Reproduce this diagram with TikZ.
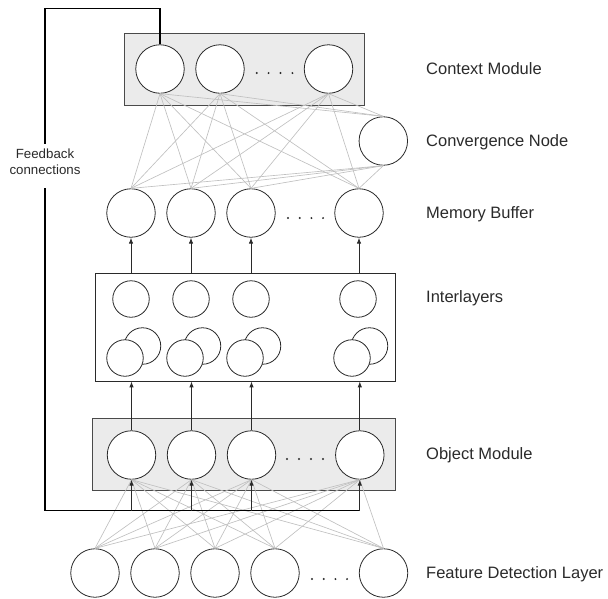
\documentclass[tikz,border=0pt]{standalone}
\usepackage{fontspec}
\setmainfont{Liberation Sans}
\usetikzlibrary{arrows.meta}
\definecolor{wire}{HTML}{C0C0C0}
\definecolor{panel}{HTML}{EBEBEB}
\definecolor{ink}{HTML}{2A2A2A}

\begin{document}
\begin{tikzpicture}[x=1pt,y=-1pt,
  neuron/.style={circle,draw=ink,line width=0.8pt,fill=white,minimum size=48.5pt,inner sep=0pt},
  unit/.style={circle,draw=ink,line width=0.8pt,fill=white,minimum size=36.5pt,inner sep=0pt},
  panelbox/.style={draw=ink!85,line width=0.8pt,fill=panel,inner sep=0pt},
  plainbox/.style={draw=ink,line width=0.8pt,fill=white,inner sep=0pt},
  wiring/.style={draw=wire,line width=0.65pt},
  feed/.style={draw=black,line width=1.3pt},
  upflow/.style={draw=ink,line width=0.9pt,-{Latex[length=6pt,width=4.5pt]}},
  layerlabel/.style={anchor=base west,inner sep=0pt,text=ink,
    font=\fontsize{16.5}{19}\selectfont},
  fblabel/.style={align=center,inner xsep=2pt,inner ysep=5pt,text=ink,
    font=\fontsize{13.3}{16}\selectfont},
  dotmark/.style={fill=ink}
]
\useasboundingbox (0,0) rectangle (608,598);

% module frames
\node[panelbox,minimum width=240pt,minimum height=72pt] (ctxbox) at (244,69) {};
\node[plainbox,minimum width=300pt,minimum height=108pt] (inter) at (245,327) {};
\node[panelbox,minimum width=303pt,minimum height=72pt] (objbox) at (244.3,454) {};

% context module
\node[neuron] (c1) at (160,69) {};
\node[neuron] (c2) at (220,69) {};
\node[neuron] (c3) at (328.5,69) {};
% convergence node
\node[neuron] (cv) at (383.3,141) {};
% memory buffer
\node[neuron] (m1) at (131,213) {};
\node[neuron] (m2) at (191,213) {};
\node[neuron] (m3) at (251,213) {};
\node[neuron] (m4) at (359,213) {};
% interlayers: single units and overlapping pairs
\foreach \i/\x in {1/131,2/191,3/251,4/358} {
  \node[unit] (s\i) at (\x,299) {};
  \node[unit] (q\i) at (\x+11.5,346) {};
  \node[unit] (p\i) at (\x-6,358) {};
}
% object module
\node[neuron] (o1) at (131.5,455) {};
\node[neuron] (o2) at (191.5,455) {};
\node[neuron] (o3) at (251.5,455) {};
\node[neuron] (o4) at (359.8,455) {};
% feature detection layer
\node[neuron] (d1) at (95,573) {};
\node[neuron] (d2) at (155,573) {};
\node[neuron] (d3) at (215,573) {};
\node[neuron] (d4) at (275,573) {};
\node[neuron] (d5) at (383.5,573) {};

% ellipses
\foreach \k in {0,1,2,3} {
  \fill[dotmark] (256.7+11.9*\k,73) circle (1.1);
  \fill[dotmark] (288+11.7*\k,218) circle (1.1);
  \fill[dotmark] (287+12*\k,459) circle (1.1);
  \fill[dotmark] (312+11.7*\k,579) circle (1.1);
}

% dense connections
\foreach \a in {1,2,3} {
  \foreach \b in {1,2,3,4} \draw[wiring] (c\a.south) -- (m\b.north);
  \draw[wiring] (c\a.south) -- (cv.north);
}
\foreach \b in {1,2,3,4} \draw[wiring] (cv.south) -- (m\b.north);
\foreach \a in {1,...,5} {
  \foreach \b in {1,2,3,4} \draw[wiring] (d\a.north) -- (o\b.south);
}

% upward flow
\foreach \i in {1,2,3,4} {
  \draw[upflow] (o\i.north) -- (o\i.north |- inter.south);
  \draw[upflow] (m\i.south |- inter.north) -- (m\i.south);
}

% feedback loop
\coordinate (fbtop) at (45,8.3);
\coordinate (fbbot) at (45,510.5);
\coordinate (fbend) at (o4 |- fbbot);
\node[fblabel] (fbl) at (45,162) {Feedback\\connections};
\draw[feed] (c1.north) |- (fbtop) -- (fbl.north);
\draw[feed] ([yshift=-8pt]fbl.south) -- (fbbot) -- (fbend);
\foreach \i in {1,2,3,4}
  \draw[upflow] (o\i |- fbbot) -- (o\i.south);

% layer captions
\node[layerlabel] (lctx) at (426,74) {Context Module};
\node[layerlabel] (lcv) at (426,146) {Convergence Node};
\node[layerlabel] (lmem) at (426,218) {Memory Buffer};
\node[layerlabel] (lint) at (426,302) {Interlayers};
\node[layerlabel] (lobj) at (426,459) {Object Module};
\node[layerlabel] (lfd) at (426,578) {Feature Detection Layer};
\end{tikzpicture}
\end{document}
